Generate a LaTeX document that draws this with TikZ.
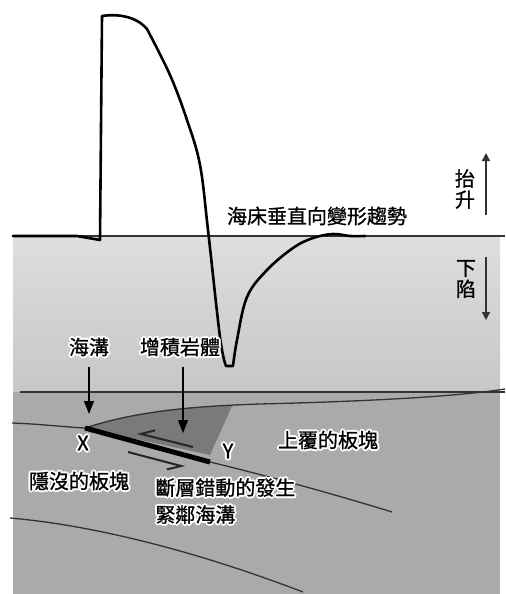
\documentclass[tikz,border=0pt]{standalone}
\usepackage{fontspec}
\setmainfont{Noto Sans CJK TC}[FakeBold=1]
\usetikzlibrary{arrows.meta}

% white outline behind a label on the grey ground
\newcommand\glow[1]{%
  \leavevmode\rlap{\color{white}%
    \foreach \dx/\dy in {-1/0,1/0,0/-1,0/1,-.7/-.7,.7/-.7,-.7/.7,.7/.7}%
      {\rlap{\kern\dx pt\raisebox{\dy pt}{#1}}}}%
  #1}

\begin{document}
\begin{tikzpicture}[x=0.5pt,y=-0.5pt,
  every node/.style={font=\fontsize{10pt}{12pt}\selectfont, inner sep=0pt},
  curve/.style={line width=1.3pt, line join=round, line cap=round},
  layer/.style={draw=black!80, line width=0.65pt},
  pointer/.style={line width=0.7pt, -{Triangle[length=6.5pt,width=5pt]}},
  trend/.style={line width=0.7pt, black!80, -{Triangle[length=4pt,width=4pt]}},
  slip/.style={line width=1pt, black!85, -{Straight Barb[harpoon,swap,length=6.5pt,width=7pt]}}
]
\useasboundingbox (0,0) rectangle (505,594);

 % water above the sea floor, crust below it
 \shade[top color=gray!26, bottom color=gray!44] (13,237) rectangle (500,392);
 \fill[gray!67] (13,392) rectangle (500,594);

 % accretionary wedge
 \fill[black!52] (85,428) .. controls (130,412) and (180,407) .. (232,406)
   -- (210,455) -- cycle;

 % layer boundaries
 \draw[layer] (20,392) -- (505,392);
 \draw[layer] (85,428) .. controls (140,410) and (200,406) .. (260,404)
   .. controls (380,401) and (460,396) .. (505,389);
 \draw[layer] (12,423) .. controls (40,424) and (65,427) .. (85,428);
 \draw[layer] (210,462) .. controls (280,479) and (340,496) .. (392,512);
 \draw[layer] (10,518) .. controls (80,524) and (180,545) .. (303,592);

 % fault patch between X and Y
 \coordinate (X) at (85,428);
 \coordinate (Y) at (210,462);
 \draw[line width=2.5pt] (X) -- (Y);

 % slip on the fault
 \coordinate (s1) at (193,447);
 \coordinate (s2) at (137,433);
 \coordinate (s3) at (128,452);
 \coordinate (s4) at (185,467);
 \draw[slip] (s1) -- (s2);
 \draw[slip] (s3) -- (s4);

 % undeformed sea floor
 \draw[line width=1.3pt, black!80] (13,236) -- (505,236);

 % vertical deformation of the sea floor
 \draw[curve] (13,236) -- (77,236) -- (100,240) -- (102,16)
   .. controls (115,14) and (135,15) .. (147,29)
   plot[smooth, tension=0.6] coordinates {(147,29) (170,75) (187,120) (200,165)
     (208,230) (220,337) (226,366)}
   -- (233,366)
   plot[smooth, tension=0.6] coordinates {(233,366) (237,340) (247,297) (267,270)
     (293,248) (313,238) (333,234) (350,236) (365,236)};

 \node (trend) at (317,216) {海床垂直向變形趨勢};

 \node[align=center, font=\fontsize{10pt}{10.5pt}\selectfont] (uplift) at (465,189) {抬\\升};
 \node[align=center, font=\fontsize{10pt}{10.5pt}\selectfont] (subside) at (466,279) {下\\陷};
 \coordinate (up0) at (486,215);
 \coordinate (up1) at (486,153);
 \coordinate (dn0) at (486,257);
 \coordinate (dn1) at (486,320);
 \draw[trend] (up0) -- (up1);
 \draw[trend] (dn0) -- (dn1);

 % labels and pointers
 \node (trench) at (89,347) {\glow{海溝}};
 \node (wedge) at (180,347) {\glow{增積岩體}};
 \coordinate (trenchpt) at (89,414);
 \coordinate (wedgept) at (183,433);
 \draw[pointer, shorten <=4pt] (trench.south -| trenchpt) -- (trenchpt);
 \draw[pointer, shorten <=4pt] (wedge.south -| wedgept) -- (wedgept);

 \node (xlab) at (83,443) {\glow{X}};
 \node (ylab) at (228,451) {\glow{Y}};

 \node (upper) at (328,440) {\glow{上覆的板塊}};
 \node (lower) at (79,481) {\glow{隱沒的板塊}};
 \node[anchor=west, align=left, font=\fontsize{10pt}{13.5pt}\selectfont] (rupture) at (155,501)
   {\glow{斷層錯動的發生}\\\glow{緊鄰海溝}};

\end{tikzpicture}
\end{document}
